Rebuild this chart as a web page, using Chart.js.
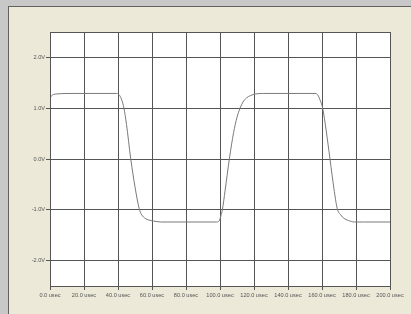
<!DOCTYPE html>
<html>
<head>
<meta charset="utf-8">
<script src="https://cdn.jsdelivr.net/npm/chart.js@4/dist/chart.umd.min.js"></script>
<style>
  html, body { margin: 0; padding: 0; background: #c8c8c8; }
  #wrap { width: 411px; height: 314px; position: relative; }
</style>
</head>
<body>
<div id="wrap"><canvas id="scope" width="411" height="314"></canvas></div>
<script>
// Scope trace: time (usec) / volts
const timeUs = [0, 1, 2, 4, 10, 20, 30, 39, 40.5, 42, 43.5, 45, 47.5, 50, 52.5, 54, 56, 58, 61, 65,
    70, 80, 90, 98, 99.5, 100.5, 101.4, 103, 105.5, 108, 110, 111.8, 113.5, 115.5, 118, 121, 125,
    140, 156.5, 157.5, 159, 160.4, 162.5, 164.7, 167, 169, 171, 173, 175.5, 179, 185, 200];
const volts = [1.20, 1.25, 1.27, 1.28, 1.29, 1.29, 1.29, 1.29, 1.27, 1.18, 1.00, 0.68, 0.00, -0.55, -0.98, -1.10, -1.17, -1.20, -1.22, -1.24,
    -1.24, -1.24, -1.24, -1.24, -1.22, -1.12, -1.00, -0.62, 0.00, 0.52, 0.82, 1.00, 1.12, 1.20, 1.25, 1.28, 1.29,
    1.29, 1.29, 1.26, 1.15, 1.00, 0.55, 0.00, -0.58, -0.98, -1.10, -1.17, -1.21, -1.24, -1.24, -1.24];

const voltTicks = [-2, -1, 0, 1, 2];

const points = timeUs.map((t, i) => ({ x: t, y: volts[i] }));

const labelFont = { family: "Liberation Sans", size: 5.6 };

// panel + white plot box
const panelPlugin = {
    id: "panel",
    beforeDraw(chart) {
        const ctx = chart.ctx;
        const a = chart.chartArea;
        ctx.save();
        ctx.fillStyle = "#c8c8c8";
        ctx.fillRect(0, 0, chart.width, chart.height);
        ctx.fillStyle = "#606060";
        ctx.fillRect(8, 6, chart.width - 8, chart.height - 6);
        ctx.fillStyle = "#ece9d8";
        ctx.fillRect(9, 7, chart.width - 9, chart.height - 7);
        ctx.fillStyle = "#ffffff";
        ctx.fillRect(a.left, a.top, a.right - a.left, a.bottom - a.top);
        ctx.restore();
    },
    afterDatasetsDraw(chart) {
        const ctx = chart.ctx;
        const a = chart.chartArea;
        ctx.save();
        ctx.strokeStyle = "#555555";
        ctx.lineWidth = 1;
        ctx.strokeRect(Math.round(a.left) + 0.5, Math.round(a.top) + 0.5,
            Math.round(a.right - a.left), Math.round(a.bottom - a.top));
        ctx.restore();
    }
};

const config = {
    type: "line",
    data: {
        datasets: [
            {
                data: points,
                borderColor: "#7a7a7a",
                borderWidth: 1,
                pointRadius: 0,
                fill: false,
                cubicInterpolationMode: "monotone",
            },
        ],
    },
    options: {
        responsive: false,
        animation: false,
        layout: { padding: { left: 0, top: 32, right: 21, bottom: 0 } },
        plugins: { legend: { display: false }, tooltip: { enabled: false } },
        scales: {
            x: {
                type: "linear",
                min: 0,
                max: 200,
                afterFit: (s) => { s.height = 28; },
                grid: { color: "#555555", lineWidth: 1, tickLength: 4, tickColor: "#555555" },
                border: { display: false },
                ticks: {
                    stepSize: 20,
                    autoSkip: false,
                    maxRotation: 0,
                    padding: 2,
                    color: "#555555",
                    font: labelFont,
                    callback: (v) => v.toFixed(1) + " usec",
                },
            },
            y: {
                type: "linear",
                min: -2.5,
                max: 2.5,
                afterFit: (s) => { s.width = 50; },
                afterBuildTicks: (s) => { s.ticks = voltTicks.map((v) => ({ value: v })); },
                grid: { color: "#555555", lineWidth: 1, tickLength: 4, tickColor: "#555555" },
                border: { display: false },
                ticks: {
                    padding: 1,
                    color: "#555555",
                    font: labelFont,
                    callback: (v) => v.toFixed(1) + "V",
                },
            },
        },
    },
    plugins: [panelPlugin],
};

new Chart(document.getElementById("scope"), config);
</script>
</body>
</html>
